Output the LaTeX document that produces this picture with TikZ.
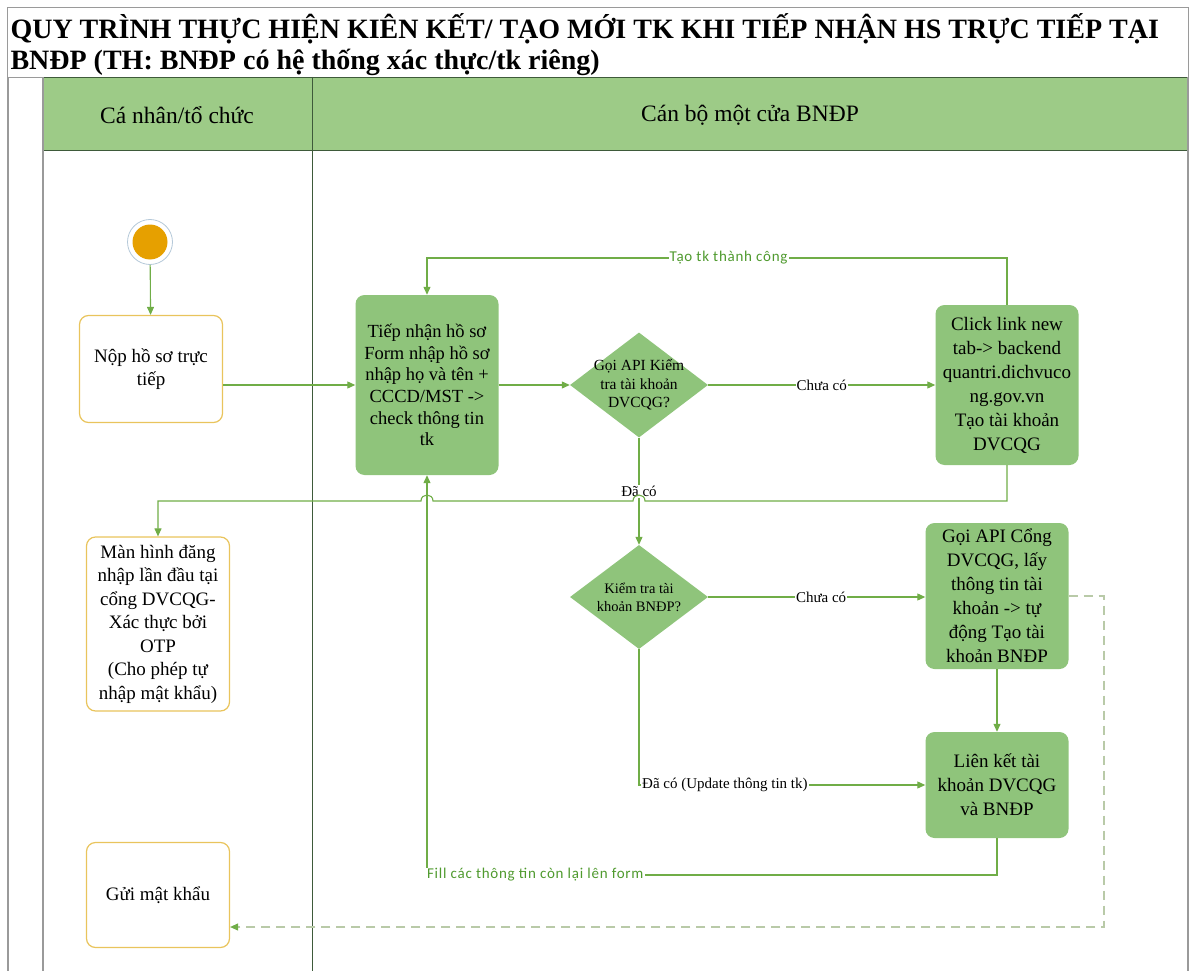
\documentclass[tikz,border=0pt]{standalone}
\usepackage{fontspec}
\setmainfont{Liberation Serif}
\newfontfamily\lblfont[LetterSpace=5]{Carlito}
\usetikzlibrary{positioning,arrows.meta,shapes.geometric,calc}

\definecolor{boxgreen}{HTML}{8FC47B}
\definecolor{headgreen}{HTML}{9DCB87}
\definecolor{linegreen}{HTML}{70AD47}
\definecolor{lightline}{HTML}{B9CAA8}
\definecolor{gold}{HTML}{E9C45C}
\definecolor{startorange}{HTML}{E6A000}
\definecolor{ringgray}{HTML}{B4C8D8}
\definecolor{lblgreen}{HTML}{4F9A2E}
\definecolor{lanegray}{HTML}{9A9A9A}
\definecolor{lanedark}{HTML}{3E5A3A}

\tikzset{
  act/.style={fill=boxgreen, rounded corners=9pt, align=flush center, minimum width=143pt, text width=138pt, inner sep=2pt, font=\fontsize{19}{23.5}\selectfont},
  user/.style={draw=gold, line width=1.2pt, fill=white, rounded corners=9pt, align=flush center, minimum width=143pt, text width=138pt, inner sep=2pt, font=\fontsize{19}{23.5}\selectfont},
  decide/.style={diamond, fill=boxgreen, minimum width=138pt, minimum height=105pt, inner sep=0pt},
  startdot/.style={circle, minimum size=45pt, draw=ringgray, line width=0.8pt, path picture={\fill[startorange] (path picture bounding box.center) circle (17.5pt);}},
  flow/.style={draw=linegreen, line width=1.1pt, -{Triangle[length=8pt,width=7pt]}},
  dashflow/.style={draw=lightline, line width=1.1pt, dash pattern=on 9pt off 6pt, -{Triangle[length=8pt,width=7pt,color=linegreen]}},
  lbl/.style={fill=white, inner sep=1pt, font=\fontsize{15}{18}\selectfont},
  glbl/.style={fill=white, inner sep=1pt, text=lblgreen, font=\lblfont\fontsize{15}{17}\selectfont},
  lane/.style={draw=lanegray, line width=1.4pt},
}

\begin{document}
\begin{tikzpicture}[x=1pt, y=-1pt]
\useasboundingbox (0,0) rectangle (1192,971);

% title and swimlanes
\draw[lanegray, line width=0.8pt] (7,7) rectangle (1188,77);
\node[anchor=west, font=\fontsize{28}{34}\selectfont\bfseries] (title1) at (7,29) {QUY TRÌNH THỰC HIỆN KIÊN KẾT/ TẠO MỚI TK KHI TIẾP NHẬN HS TRỰC TIẾP TẠI};
\node[anchor=west, font=\fontsize{28}{34}\selectfont\bfseries] (title2) at (7,62) {BNĐP (TH: BNĐP có hệ thống xác thực/tk riêng)};
\fill[headgreen] (43,77) rectangle (1188,150);
\draw[lanedark, line width=0.8pt] (43,77) -- (1188,77) (43,150) -- (1188,150);
\draw[lane] (8,77) -- (8,971) (43,77) -- (43,971) (1188,77) -- (1188,971);
\draw[lanedark, line width=0.8pt] (312,77) -- (312,971);
\node[font=\fontsize{23.5}{28}\selectfont] (lane1) at (177,115) {Cá nhân/tổ chức};
\node[font=\fontsize{23.5}{28}\selectfont] (lane2) at (750,115) {Cán bộ một cửa BNĐP};

% nodes
\node[startdot] (start) at (150,242) {};
\node[user, minimum height=107pt] (nop) at (151,369) {Nộp hồ sơ trực\\tiếp};
\node[act, minimum height=180pt, font=\fontsize{18.5}{21.6}\selectfont] (form) at (427,385) {Tiếp nhận hồ sơ\\Form nhập hồ sơ\\nhập họ và tên +\\CCCD/MST ->\\check thông tin\\tk};
\node[decide, label={[align=flush center, font=\fontsize{15.5}{18.5}\selectfont]center:{Gọi API Kiểm\\tra tài khoản\\DVCQG?}}] (d1) at (639,385) {};
\node[act, minimum height=160pt, font=\fontsize{19}{24}\selectfont] (click) at (1007,385) {Click link new\\tab-> backend\\quantri.dichvuco\\ng.gov.vn\\Tạo tài khoản\\DVCQG};
\node[user, minimum height=174pt] (man) at (158,624) {Màn hình đăng\\nhập lần đầu tại\\cổng DVCQG-\\Xác thực bởi\\OTP\\(Cho phép tự\\nhập mật khẩu)};
\node[decide, minimum height=104pt, label={[align=flush center, font=\fontsize{14.5}{18}\selectfont]center:{Kiểm tra tài\\khoản BNĐP?}}] (d2) at (639,597) {};
\node[act, minimum height=146pt, font=\fontsize{19}{24}\selectfont] (goi) at (997,596) {Gọi API Cổng\\DVCQG, lấy\\thông tin tài\\khoản -> tự\\động Tạo tài\\khoản BNĐP};
\node[act, minimum height=106pt, font=\fontsize{19}{24}\selectfont] (lien) at (997,785) {Liên kết tài\\khoản DVCQG\\và BNĐP};
\node[user, minimum height=105pt] (gui) at (158,895) {Gửi mật khẩu};

\coordinate (topc) at (427,258);
\coordinate (fillc) at (427,875);
\coordinate (dr) at (1104,927);

% connectors
\draw[flow] (start) -- (nop);
\draw[flow] (nop.east |- form.west) -- (form.west);
\draw[flow] (form.east) -- (d1.west);
\draw[flow] (d1.east) -- node[lbl] {Chưa có} (click.west);
\draw[flow] (click.north) |- node[glbl, pos=0.74] {Tạo tk thành công} (topc) -- (form.north);
\draw[flow] (d1.south) -- node[lbl] {Đã có} (d2.north);
\draw[flow] (click.south) -- (1007,501) -- (645,501) .. controls (645,493) and (633,493) .. (633,501) -- (433,501) .. controls (433,493) and (421,493) .. (421,501) -- (158,501) -- (man.north);
\draw[flow] (d2.east) -- node[lbl, pos=0.52] {Chưa có} (d2.east -| goi.west);
\draw[flow] (goi.south) -- (lien.north);
\draw[flow] (d2.south) |- node[lbl, pos=0.65] {Đã có (Update thông tin tk)} (lien.west);
\draw[flow] (lien.south) -- (lien.south |- fillc) -- node[glbl, pos=0.81] {Fill các thông tin còn lại lên form} (fillc) -- (form.south);
\draw[dashflow] (goi.east) -| (dr) -- (gui.east |- dr);

\end{tikzpicture}
\end{document}
